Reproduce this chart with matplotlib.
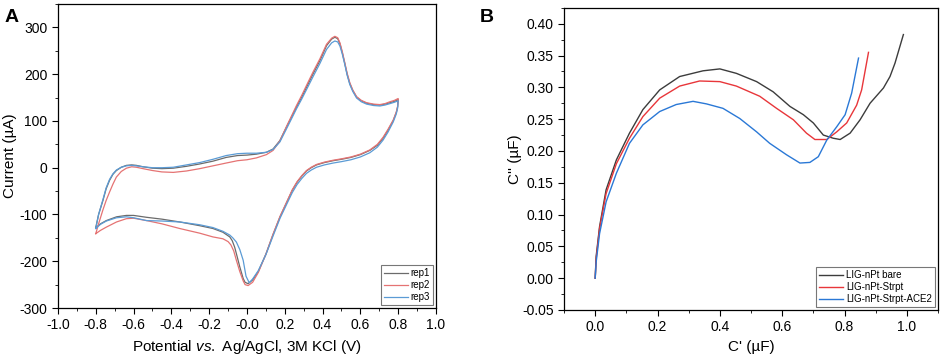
import numpy as np
import matplotlib.pyplot as plt
from matplotlib.ticker import MultipleLocator

plt.rcParams['font.family'] = ['Liberation Sans', 'DejaVu Sans']
plt.rcParams['axes.unicode_minus'] = False
plt.rcParams['mathtext.fontset'] = 'custom'
plt.rcParams['mathtext.rm'] = 'Liberation Sans'
plt.rcParams['mathtext.it'] = 'Liberation Sans:italic'

# ---- panel A : cyclic voltammograms (closed loops, start at -0.8 V) ----
rep1_x = [-0.8, -0.785, -0.762, -0.745, -0.727, -0.709, -0.691, -0.665, -0.638, -0.61, -0.585, -0.55, -0.5, -0.45,
          -0.39, -0.32, -0.25, -0.18, -0.11, -0.05, 0.0, 0.05, 0.103, 0.138, 0.174, 0.209, 0.235, 0.262, 0.29, 0.315,
          0.35, 0.386, 0.421, 0.448, 0.465, 0.48, 0.492, 0.505, 0.518, 0.53, 0.544, 0.56, 0.58, 0.605, 0.633, 0.67,
          0.703, 0.73, 0.756, 0.78, 0.8,
          0.797, 0.79, 0.774, 0.746, 0.72, 0.69, 0.65, 0.6, 0.55, 0.5, 0.456, 0.41, 0.368, 0.34, 0.315, 0.29, 0.265,
          0.24, 0.215, 0.175, 0.138, 0.1, 0.06, 0.03, 0.006, -0.01, -0.02, -0.038, -0.052, -0.065, -0.078, -0.091,
          -0.127, -0.18, -0.25, -0.356, -0.45, -0.532, -0.6, -0.638, -0.69, -0.744, -0.775, -0.8]
rep1_y = [-128, -100, -70, -45, -27, -14, -6, 1, 5, 6, 5, 2, -1, -2,
          -1, 3, 8, 14, 22, 26, 27, 29, 33, 40, 58, 87, 108, 130, 151, 172,
          201, 229, 261, 275, 279, 276, 265, 245, 222, 200, 180, 165, 151, 143, 138, 135,
          134, 136, 139, 142, 146,
          130, 118, 101, 80, 63, 48, 37, 28, 22, 18, 15, 11, 6, 0, -7, -18, -31,
          -48, -70, -105, -143, -185, -222, -240, -248, -245, -237, -212, -190, -170, -156, -148,
          -138, -130, -124, -116, -110, -106, -102, -102, -105, -113, -120, -128]

rep2_x = [-0.8, -0.785, -0.762, -0.745, -0.727, -0.709, -0.691, -0.665, -0.638, -0.61, -0.585, -0.55, -0.5, -0.45,
          -0.39, -0.32, -0.25, -0.18, -0.11, -0.05, 0.0, 0.05, 0.103, 0.138, 0.174, 0.209, 0.235, 0.262, 0.29, 0.315,
          0.35, 0.386, 0.421, 0.448, 0.465, 0.48, 0.492, 0.505, 0.518, 0.53, 0.544, 0.56, 0.58, 0.605, 0.633, 0.67,
          0.703, 0.73, 0.756, 0.78, 0.8,
          0.797, 0.79, 0.774, 0.746, 0.72, 0.69, 0.65, 0.6, 0.55, 0.5, 0.456, 0.41, 0.368, 0.34, 0.315, 0.29, 0.265,
          0.24, 0.215, 0.175, 0.138, 0.1, 0.06, 0.03, 0.006, -0.01, -0.02, -0.038, -0.056, -0.07, -0.085, -0.1,
          -0.127, -0.18, -0.25, -0.356, -0.45, -0.532, -0.6, -0.638, -0.69, -0.744, -0.775, -0.8]
rep2_y = [-141, -120, -90, -70, -52, -35, -20, -8, -1, 2, 1, -2, -6, -9,
          -10, -7, -2, 4, 10, 15, 17, 21, 28, 37, 57, 88, 110, 133, 155, 176,
          205, 233, 264, 277, 281, 278, 267, 247, 224, 202, 182, 166, 152, 144, 139, 136,
          135, 137, 141, 144, 148,
          131, 119, 102, 82, 65, 50, 38, 29, 23, 19, 16, 12, 7, 1, -6, -17, -30,
          -47, -69, -104, -142, -185, -224, -245, -252, -250, -242, -222, -198, -178, -165, -158,
          -152, -148, -140, -130, -120, -113, -108, -109, -116, -127, -134, -141]

rep3_x = [-0.8, -0.785, -0.762, -0.745, -0.727, -0.709, -0.691, -0.665, -0.638, -0.61, -0.585, -0.55, -0.5, -0.45,
          -0.39, -0.32, -0.25, -0.18, -0.11, -0.05, 0.0, 0.05, 0.103, 0.138, 0.174, 0.209, 0.235, 0.262, 0.29, 0.315,
          0.35, 0.386, 0.421, 0.448, 0.465, 0.48, 0.492, 0.505, 0.518, 0.53, 0.544, 0.56, 0.58, 0.605, 0.633, 0.67,
          0.703, 0.73, 0.756, 0.78, 0.8,
          0.797, 0.79, 0.774, 0.746, 0.72, 0.69, 0.65, 0.6, 0.55, 0.5, 0.456, 0.41, 0.368, 0.34, 0.315, 0.29, 0.265,
          0.24, 0.215, 0.175, 0.138, 0.1, 0.06, 0.03, 0.012, -0.005, -0.02, -0.038, -0.056, -0.075, -0.091,
          -0.127, -0.18, -0.25, -0.356, -0.45, -0.532, -0.6, -0.638, -0.69, -0.744, -0.775, -0.8]
rep3_y = [-130, -100, -68, -43, -25, -13, -5, 1, 4, 5, 4, 2, 0, 0,
          1, 6, 11, 18, 26, 30, 31, 31, 33, 39, 55, 83, 104, 126, 147, 167,
          195, 223, 253, 267, 271, 269, 260, 242, 220, 198, 178, 163, 149, 141, 136, 133,
          132, 134, 137, 140, 143,
          127, 115, 98, 76, 59, 44, 32, 23, 17, 13, 10, 6, 1, -5, -12, -23, -36,
          -53, -74, -108, -146, -186, -220, -238, -246, -232, -198, -175, -159, -150, -144,
          -136, -128, -122, -116, -114, -113, -107, -105, -107, -114, -121, -130]

# ---- panel B : capacitance Nyquist plots ----
bare_x = [0.0, 0.003, 0.014, 0.035, 0.068, 0.11, 0.153, 0.207, 0.271, 0.346, 0.40, 0.453, 0.518, 0.571, 0.625,
          0.668, 0.70, 0.732, 0.764, 0.786, 0.818, 0.85, 0.882, 0.925, 0.946, 0.962, 0.989]
bare_y = [0.0, 0.034, 0.081, 0.139, 0.186, 0.228, 0.265, 0.296, 0.317, 0.326, 0.329, 0.322, 0.309, 0.293, 0.270,
          0.257, 0.244, 0.225, 0.220, 0.218, 0.228, 0.249, 0.275, 0.299, 0.317, 0.338, 0.383]

strpt_x = [0.0, 0.003, 0.014, 0.035, 0.068, 0.11, 0.153, 0.207, 0.271, 0.335, 0.40, 0.453, 0.528, 0.582, 0.636,
           0.678, 0.705, 0.743, 0.775, 0.807, 0.839, 0.855, 0.877]
strpt_y = [0.0, 0.030, 0.078, 0.133, 0.180, 0.220, 0.254, 0.283, 0.302, 0.310, 0.309, 0.302, 0.286, 0.267, 0.249,
           0.228, 0.218, 0.218, 0.230, 0.244, 0.272, 0.296, 0.355]

ace2_x = [0.0, 0.003, 0.014, 0.035, 0.068, 0.11, 0.153, 0.207, 0.26, 0.314, 0.357, 0.41, 0.464, 0.518, 0.56,
          0.614, 0.657, 0.689, 0.716, 0.743, 0.775, 0.802, 0.823, 0.845]
ace2_y = [0.0, 0.025, 0.070, 0.120, 0.165, 0.212, 0.241, 0.262, 0.273, 0.278, 0.274, 0.267, 0.251, 0.230, 0.212,
          0.194, 0.181, 0.182, 0.191, 0.217, 0.238, 0.257, 0.291, 0.346]

fig = plt.figure(figsize=(9.41, 3.61), dpi=100)

ax1 = fig.add_axes([0.0616, 0.1468, 0.4017, 0.842])
ax1.plot(rep1_x, rep1_y, color='#6b6b6b', lw=0.9, label='rep1')
ax1.plot(rep2_x, rep2_y, color='#e57373', lw=0.9, label='rep2')
ax1.plot(rep3_x, rep3_y, color='#5b9bd5', lw=0.9, label='rep3')
ax1.set_xlim(-1.0, 1.0)
ax1.set_ylim(-300, 350)
ax1.xaxis.set_minor_locator(MultipleLocator(0.1))
ax1.yaxis.set_major_locator(MultipleLocator(100))
ax1.yaxis.set_minor_locator(MultipleLocator(50))
ax1.set_xticks(np.arange(-1.0, 1.01, 0.2))
ax1.set_xticklabels([f'{v:.1f}' for v in np.arange(-1.0, 1.01, 0.2)])
ax1.set_xlabel('Potential $\\it{vs.}$ Ag/AgCl, 3M KCl (V)', fontsize=11)
ax1.set_ylabel('Current (µA)', fontsize=11)
ax1.yaxis.set_label_coords(-0.108, 0.5)
leg1 = ax1.legend(loc='lower right', fontsize=7, frameon=True, fancybox=False, edgecolor='#555555',
                  handlelength=2.5, borderpad=0.3, labelspacing=0.2, handletextpad=0.3, borderaxespad=0.3)
leg1.get_frame().set_linewidth(0.8)
fig.text(0.005, 0.975, 'A', fontsize=14, fontweight='bold', va='top')

ax2 = fig.add_axes([0.5994, 0.1413, 0.3974, 0.837])
ax2.plot(bare_x, bare_y, color='#3c3c3c', lw=1.0, label='LIG-nPt bare')
ax2.plot(strpt_x, strpt_y, color='#e8363a', lw=1.0, label='LIG-nPt-Strpt')
ax2.plot(ace2_x, ace2_y, color='#2a78d6', lw=1.0, label='LIG-nPt-Strpt-ACE2')
ax2.set_xlim(-0.1, 1.1)
ax2.set_ylim(-0.05, 0.425)
ax2.xaxis.set_minor_locator(MultipleLocator(0.1))
ax2.yaxis.set_minor_locator(MultipleLocator(0.025))
ax2.set_xticks(np.arange(0.0, 1.01, 0.2))
ax2.set_xticklabels([f'{v:.1f}' for v in np.arange(0.0, 1.01, 0.2)])
ax2.set_yticks(np.arange(-0.05, 0.41, 0.05))
ax2.set_yticklabels([f'{v:.2f}' for v in np.arange(-0.05, 0.41, 0.05)])
ax2.set_xlabel("C' (µF)", fontsize=11)
ax2.set_ylabel("C'' (µF)", fontsize=11)
ax2.yaxis.set_label_coords(-0.112, 0.5)
leg2 = ax2.legend(loc='lower right', fontsize=7, frameon=True, fancybox=False, edgecolor='#555555',
                  handlelength=2.5, borderpad=0.3, labelspacing=0.2, handletextpad=0.3, borderaxespad=0.3)
leg2.get_frame().set_linewidth(0.8)
fig.text(0.51, 0.975, 'B', fontsize=14, fontweight='bold', va='top')

for ax in (ax1, ax2):
    ax.tick_params(which='both', direction='out', labelsize=10, top=False, right=False)
    ax.tick_params(which='major', length=4)
    ax.tick_params(which='minor', length=2.5)
    for s in ax.spines.values():
        s.set_linewidth(0.9)

fig.savefig('out.png', dpi=100)
